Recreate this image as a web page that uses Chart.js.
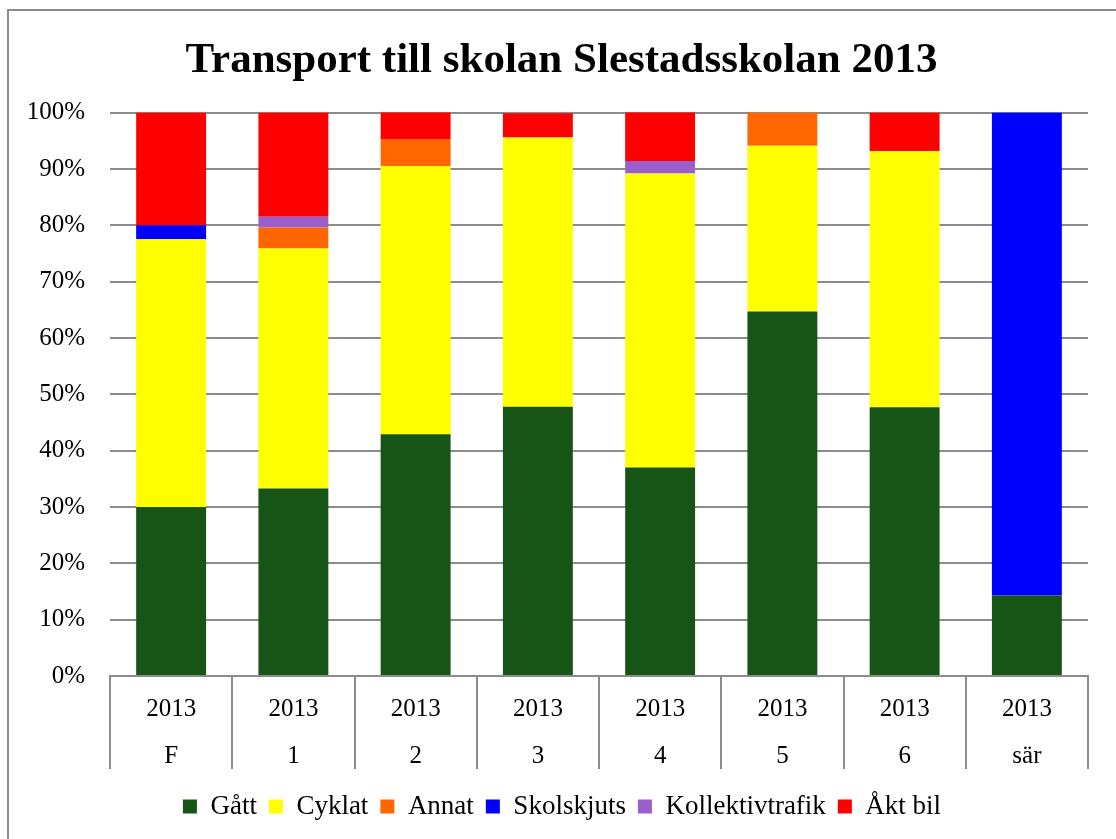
<!DOCTYPE html>
<html lang="sv">
<head>
<meta charset="UTF-8" />
<title>Transport till skolan</title>
<script src="https://cdn.jsdelivr.net/npm/chart.js"></script>
<style>
  html, body { margin: 0; padding: 0; background: #fff; }
  #wrap { width: 1116px; height: 839px; }
</style>
</head>
<body>
<div id="wrap"><canvas id="myChart" width="1116" height="839"></canvas></div>
<script>
// kategorier (två rader: år + klass)
const years = ["2013", "2013", "2013", "2013", "2013", "2013", "2013", "2013"];
const classes = ["F", "1", "2", "3", "4", "5", "6", "sär"];

// andelar i procent
const gatt = [30.0, 33.3, 42.9, 47.8, 37.0, 64.7, 47.7, 14.3];
const cyklat = [47.5, 42.6, 47.6, 47.8, 52.2, 29.4, 45.5, 0];
const annat = [0, 3.7, 4.8, 0, 0, 5.9, 0, 0];
const skolskjuts = [2.5, 0, 0, 0, 0, 0, 0, 85.7];
const kollektivtrafik = [0, 1.9, 0, 0, 2.2, 0, 0, 0];
const aktBil = [20.0, 18.5, 4.8, 4.3, 8.7, 0, 6.8, 0];

const yTicks = [0, 10, 20, 30, 40, 50, 60, 70, 80, 90, 100];

const labels = years.map((y, i) => [y, classes[i]]);

const serif = "'Liberation Serif', 'Times New Roman', serif";
const gra = "#8c8c8c";

// ram runt diagrammet + skiljelinjer under x-axeln
const ramPlugin = {
  id: "ram",
  afterLayout(chart) {
    // titel och förklaring ligger lite till höger om mitten i originalet
    chart.titleBlock.left += 25;
    chart.legend.left += 26;
    // förklaringen lite högre upp
    chart.legend.top -= 9;
    chart.legend.bottom -= 9;
  },
  beforeDraw(chart) {
    const ctx = chart.ctx;
    ctx.save();
    ctx.fillStyle = "#fff";
    ctx.fillRect(0, 0, chart.width, chart.height);
    ctx.strokeStyle = gra;
    ctx.lineWidth = 2;
    ctx.strokeRect(8, 10, chart.width + 20, chart.height + 20);
    ctx.restore();
  },
  afterDraw(chart) {
    const xs = chart.scales.x;
    const ctx = chart.ctx;
    const halv = (xs.getPixelForValue(1) - xs.getPixelForValue(0)) / 2;
    const y0 = chart.chartArea.bottom;
    ctx.save();
    ctx.strokeStyle = gra;
    ctx.lineWidth = 2;
    ctx.beginPath();
    for (let i = 0; i <= classes.length; i++) {
      const x = Math.round(xs.getPixelForValue(i) - halv);
      ctx.moveTo(x, y0);
      ctx.lineTo(x, y0 + 93);
    }
    ctx.stroke();
    ctx.restore();
  }
};

function serie(namn, data, farg) {
  return {
    label: namn,
    data: data,
    backgroundColor: farg,
    borderWidth: 0,
    categoryPercentage: 1.0,
    barPercentage: 0.572
  };
}

const config = {
  type: "bar",
  data: {
    labels: labels,
    datasets: [
      serie("Gått", gatt, "#175517"),
      serie("Cyklat", cyklat, "#ffff00"),
      serie("Annat", annat, "#ff6600"),
      serie("Skolskjuts", skolskjuts, "#0000ff"),
      serie("Kollektivtrafik", kollektivtrafik, "#9b5fcd"),
      serie("Åkt bil", aktBil, "#ff0000")
    ]
  },
  options: {
    responsive: false,
    animation: false,
    layout: { padding: { left: 10, right: 28, top: 10, bottom: 0 } },
    plugins: {
      title: {
        display: true,
        text: "Transport till skolan Slestadsskolan 2013",
        color: "#000",
        font: { family: serif, size: 43, weight: "bold" },
        padding: { top: 25, bottom: 26 }
      },
      legend: {
        position: "bottom",
        labels: {
          color: "#000",
          font: { family: serif, size: 27 },
          boxWidth: 14,
          boxHeight: 14,
          padding: 12
        }
      },
      tooltip: { enabled: false }
    },
    scales: {
      x: {
        stacked: true,
        offset: true,
        grid: {
          offset: true,
          drawOnChartArea: false,
          drawTicks: false
        },
        border: { display: true, color: gra, width: 2 },
        ticks: {
          color: "#000",
          font: { family: serif, size: 25, lineHeight: 1.88 },
          padding: 10,
          maxRotation: 0,
          autoSkip: false
        }
      },
      y: {
        stacked: true,
        min: 0,
        max: 100,
        afterFit(scale) { scale.width = 100; },
        afterBuildTicks(scale) { scale.ticks = yTicks.map(v => ({ value: v })); },
        grid: {
          drawTicks: false,
          color: gra,
          lineWidth: 2
        },
        border: { display: false },
        ticks: {
          color: "#000",
          font: { family: serif, size: 25 },
          padding: 25,
          callback: v => v + "%"
        }
      }
    }
  },
  plugins: [ramPlugin]
};

new Chart(document.getElementById("myChart"), config);
</script>
</body>
</html>
